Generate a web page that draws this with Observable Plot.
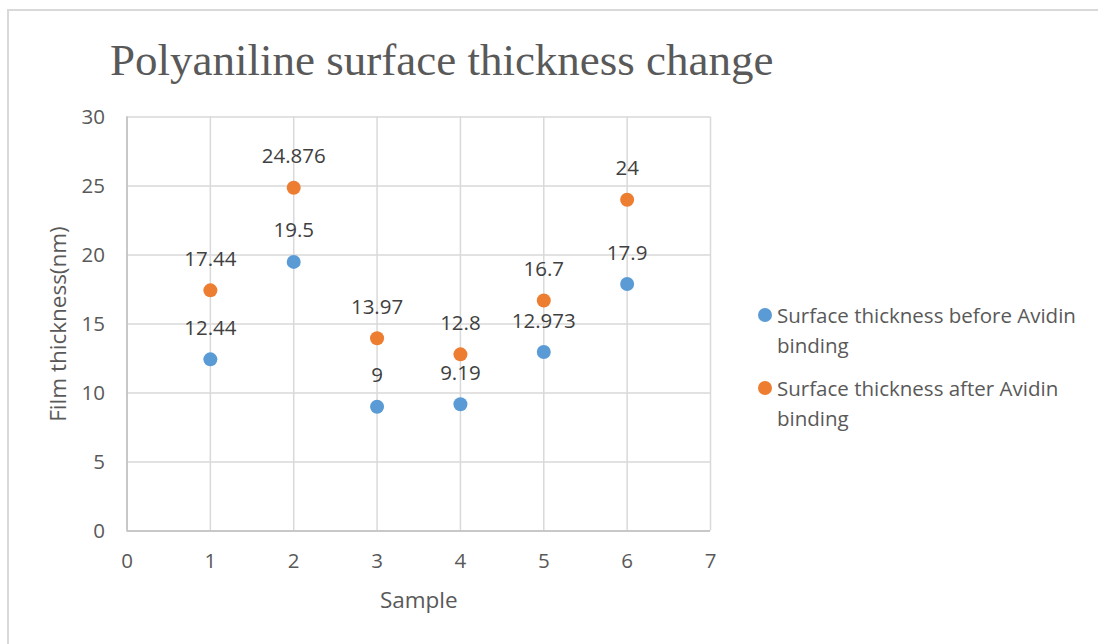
<!DOCTYPE html>
<html>
<head>
<meta charset="utf-8">
<script src="https://cdn.jsdelivr.net/npm/d3@7"></script>
<script src="https://cdn.jsdelivr.net/npm/@observablehq/plot@0.6"></script>
<style>
  html, body { margin: 0; padding: 0; background: #fff; overflow: hidden; }
  #wrap { position: relative; width: 1098px; height: 644px; }
  #border { position: absolute; left: 7px; top: 9px; width: 1200px; height: 800px; border: 2px solid #d9d9d9; box-sizing: border-box; }
  #title { position: absolute; left: 110px; top: 34px; font-family: "Liberation Serif", serif; font-size: 45px; color: #595959; white-space: nowrap; }
  #chart { position: absolute; left: 0; top: 0; }
  #legend { position: absolute; left: 756px; top: 300px; font-family: "Open Sans", sans-serif; font-size: 20.5px; color: #595959; line-height: 30px; }
  .item { position: relative; padding-left: 21px; margin-bottom: 13px; width: 330px; }
  .sw { position: absolute; left: 2px; top: 8px; width: 14px; height: 14px; border-radius: 50%; }
</style>
</head>
<body>
<div id="wrap">
  <div id="border"></div>
  <div id="chart"></div>
  <div id="title"></div>
  <div id="legend"></div>
</div>
<script>
const title = "Polyaniline surface thickness change";
const xLabel = "Sample";
const yLabel = "Film thickness(nm)";
const seriesNames = ["Surface thickness before Avidin binding", "Surface thickness after Avidin binding"];
const seriesColors = ["#5b9bd5", "#ed7d31"];
const samples = [1, 2, 3, 4, 5, 6];
const before = [12.44, 19.5, 9, 9.19, 12.973, 17.9];
const after = [17.44, 24.876, 13.97, 12.8, 16.7, 24];
const xTicks = [0, 1, 2, 3, 4, 5, 6, 7];
const yTicks = [0, 5, 10, 15, 20, 25, 30];

const data = [];
samples.forEach((s, i) => {
  data.push({x: s, y: before[i], series: seriesNames[0], label: String(before[i])});
  data.push({x: s, y: after[i], series: seriesNames[1], label: String(after[i])});
});

document.getElementById("title").textContent = title;
const legend = document.getElementById("legend");
seriesNames.forEach((n, i) => {
  const d = document.createElement("div");
  d.className = "item";
  d.innerHTML = `<span class="sw" style="background:${seriesColors[i]}"></span>${n}`;
  legend.appendChild(d);
});

const chart = Plot.plot({
  width: 1098,
  height: 644,
  marginLeft: 126.5,
  marginRight: 388,
  marginTop: 116.5,
  marginBottom: 113.5,
  style: {fontFamily: "Open Sans, sans-serif", fontSize: "20.5px", color: "#595959", background: "transparent", overflow: "visible"},
  x: {domain: [0, 7]},
  y: {domain: [0, 30]},
  color: {domain: seriesNames, range: seriesColors},
  marks: [
    Plot.gridX(xTicks, {stroke: "#d9d9d9", strokeOpacity: 1, strokeWidth: 1.5}),
    Plot.gridY(yTicks, {stroke: "#d9d9d9", strokeOpacity: 1, strokeWidth: 1.5}),
    Plot.ruleY([0], {stroke: "#bfbfbf", strokeWidth: 1.5}),
    Plot.ruleX([0], {stroke: "#bfbfbf", strokeWidth: 1.5}),
    Plot.axisX({ticks: xTicks, tickFormat: "d", tickSize: 0, tickPadding: 22, label: null}),
    Plot.axisY({ticks: yTicks, tickFormat: "d", tickSize: 0, tickPadding: 22, label: null}),
    Plot.text([xLabel], {frameAnchor: "bottom", lineAnchor: "middle", textAnchor: "middle", dy: 70, fontSize: 22.5, fill: "#595959"}),
    Plot.text([yLabel], {frameAnchor: "left", lineAnchor: "middle", textAnchor: "middle", dx: -68, rotate: -90, fontSize: 22.5, fill: "#595959"}),
    Plot.dot(data, {x: "x", y: "y", fill: "series", r: 7}),
    Plot.text(data, {x: "x", y: "y", text: "label", dy: -31, fill: "#404040", fontSize: 20.5})
  ]
});
document.getElementById("chart").appendChild(chart);
</script>
</body>
</html>
